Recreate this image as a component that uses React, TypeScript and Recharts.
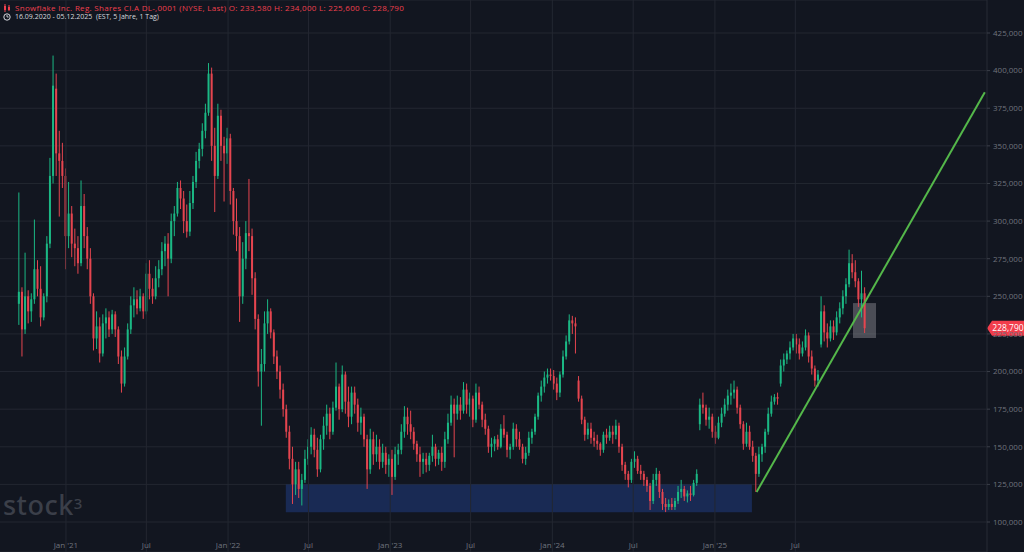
import React from 'react';
import { ComposedChart, Bar, XAxis, YAxis, CartesianGrid, ReferenceLine, ReferenceArea } from 'recharts';

// ---- data (weekly candles; index = weeks since 16.09.2020) ----
const START_DATE = '2020-09-16';
const END_DATE = '05.12.2025';
const TITLE = 'Snowflake Inc. Reg. Shares Cl.A DL-,0001 (NYSE, Last)';
const lastDayOHLC = [233.58, 234.0, 225.6, 228.79];

const weeklyOHLC: number[][] = [
  [245, 319, 231, 253], [253, 256, 210, 228], [228, 279, 225, 250], [250, 254, 232, 240], [240, 252, 233, 248],
  [248, 301, 245, 268], [268, 274, 250, 255], [255, 270, 230, 236], [236, 252, 234, 250], [250, 290, 246, 285],
  [285, 342, 282, 330], [330, 410, 325, 390], [388, 398, 330, 345], [345, 360, 303, 340], [340, 352, 322, 330],
  [330, 335, 268, 290], [290, 326, 282, 305], [305, 310, 276, 285], [285, 295, 270, 282], [282, 290, 265, 272],
  [272, 327, 270, 310], [310, 318, 282, 290], [290, 296, 268, 275], [275, 282, 245, 250], [250, 252, 214, 222],
  [222, 240, 215, 230], [230, 236, 206, 212], [212, 238, 210, 232], [232, 242, 222, 236], [236, 240, 223, 228],
  [228, 241, 225, 238], [238, 240, 223, 228], [228, 230, 205, 210], [210, 214, 186, 192], [192, 216, 190, 210],
  [210, 232, 208, 228], [228, 250, 225, 244], [244, 256, 236, 248], [248, 254, 238, 242], [242, 255, 240, 250],
  [250, 252, 235, 240], [240, 272, 238, 265], [265, 274, 248, 255], [255, 262, 245, 250], [250, 270, 248, 262],
  [262, 274, 256, 268], [268, 286, 264, 280], [280, 290, 270, 285], [285, 292, 250, 275], [275, 305, 272, 300],
  [300, 310, 290, 305], [305, 326, 303, 322], [322, 327, 308, 315], [315, 320, 292, 300], [300, 311, 289, 293],
  [293, 320, 290, 312], [312, 330, 308, 326], [326, 346, 322, 340], [340, 352, 335, 348], [348, 365, 343, 360],
  [360, 378, 355, 372], [372, 405, 370, 398], [398, 402, 340, 350], [350, 362, 306, 330], [330, 378, 328, 370],
  [370, 374, 340, 350], [350, 356, 313, 345], [345, 362, 338, 355], [355, 358, 311, 320], [320, 322, 291, 300],
  [300, 315, 280, 290], [290, 296, 233, 250], [250, 286, 245, 275], [275, 300, 268, 292], [292, 328, 280, 290],
  [290, 295, 251, 262], [262, 266, 228, 235], [235, 238, 190, 200], [200, 215, 164, 205], [205, 240, 200, 232],
  [232, 248, 225, 240], [240, 242, 222, 226], [226, 228, 205, 210], [210, 214, 195, 200], [200, 204, 182, 188],
  [188, 192, 170, 175], [175, 178, 156, 160], [160, 164, 135, 142], [142, 150, 112, 125], [125, 140, 118, 135],
  [135, 140, 116, 122], [122, 132, 111, 128], [128, 148, 126, 142], [142, 155, 138, 150], [150, 163, 145, 158],
  [158, 162, 143, 148], [148, 156, 130, 135], [135, 158, 133, 155], [155, 170, 148, 164], [164, 178, 158, 172],
  [172, 176, 155, 160], [160, 180, 158, 176], [176, 206, 174, 190], [190, 192, 168, 175], [175, 204, 173, 198],
  [198, 200, 172, 180], [180, 190, 163, 170], [170, 190, 165, 186], [186, 190, 172, 178], [178, 182, 160, 166],
  [166, 176, 158, 170], [170, 172, 150, 155], [155, 158, 122, 135], [135, 162, 132, 155], [155, 160, 138, 145],
  [145, 158, 140, 150], [150, 155, 135, 140], [140, 152, 136, 146], [146, 150, 132, 138], [138, 145, 130, 142],
  [142, 148, 118, 130], [130, 150, 128, 145], [145, 152, 138, 148], [148, 165, 145, 160], [160, 177, 156, 170],
  [170, 176, 158, 165], [165, 174, 155, 160], [160, 163, 148, 152], [152, 154, 140, 145], [145, 150, 130, 140],
  [140, 146, 132, 142], [142, 146, 133, 138], [138, 146, 134, 144], [144, 158, 140, 150], [150, 152, 137, 142],
  [142, 148, 138, 146], [146, 150, 134, 140], [140, 160, 136, 155], [155, 172, 152, 166], [166, 184, 164, 178],
  [178, 182, 143, 172], [172, 184, 168, 178], [178, 183, 168, 174], [174, 193, 172, 188], [188, 192, 172, 178],
  [178, 186, 170, 182], [182, 184, 163, 168], [168, 192, 166, 186], [186, 190, 175, 178], [178, 180, 163, 168],
  [168, 172, 158, 162], [162, 164, 146, 150], [150, 156, 143, 152], [152, 157, 147, 155], [155, 158, 148, 150],
  [150, 165, 149, 162], [162, 171, 156, 158], [158, 160, 143, 148], [148, 152, 142, 150], [150, 166, 148, 162],
  [162, 165, 150, 155], [155, 160, 148, 150], [150, 152, 139, 142], [142, 150, 138, 146], [146, 160, 144, 156],
  [156, 162, 152, 160], [160, 172, 158, 170], [170, 186, 168, 184], [184, 194, 180, 190], [190, 200, 186, 196],
  [196, 202, 192, 198], [198, 202, 194, 197], [197, 201, 188, 192], [192, 196, 181, 186], [186, 200, 183, 198],
  [198, 214, 196, 210], [210, 224, 208, 220], [220, 238, 218, 234], [234, 237, 225, 232], [232, 236, 212, 230],
  [194, 197, 180, 182], [182, 184, 165, 168], [168, 170, 154, 158], [158, 166, 155, 162], [162, 166, 152, 156],
  [156, 160, 150, 154], [154, 158, 148, 152], [152, 153, 144, 148], [148, 160, 146, 158], [158, 162, 152, 156],
  [156, 164, 154, 160], [160, 164, 152, 158], [158, 168, 155, 164], [164, 166, 146, 150], [150, 152, 134, 138],
  [138, 140, 128, 132], [132, 134, 123, 128], [128, 142, 126, 140], [140, 147, 136, 142], [142, 144, 132, 134],
  [134, 138, 128, 132], [132, 134, 124, 128], [128, 130, 120, 124], [124, 126, 108, 114], [114, 132, 112, 128],
  [128, 136, 124, 132], [132, 134, 116, 120], [120, 122, 108, 112], [112, 116, 106.6, 110], [110, 115, 108, 112],
  [112, 116, 108, 110], [110, 116, 108, 114], [114, 124, 112, 120], [120, 128, 116, 122], [122, 124, 114, 117],
  [117, 121, 113, 119], [119, 124, 114, 118], [118, 128, 117, 126], [126, 135, 124, 132], [165, 182, 161, 178],
  [178, 186, 172, 176], [176, 178, 164, 168], [168, 176, 162, 170], [170, 172, 156, 160], [160, 164, 152, 156],
  [156, 170, 155, 166], [166, 176, 163, 172], [172, 182, 170, 178], [178, 188, 174, 184], [184, 192, 178, 186],
  [186, 194, 182, 188], [188, 190, 172, 176], [176, 178, 162, 165], [165, 167, 148, 152], [152, 166, 150, 160],
  [160, 164, 148, 150], [150, 154, 140, 144], [144, 146, 120, 132], [132, 150, 130, 145], [145, 152, 140, 150],
  [150, 162, 146, 160], [160, 176, 158, 172], [172, 184, 170, 180], [180, 185, 178, 183], [183, 186, 178, 182],
  [192, 208, 190, 204], [204, 212, 200, 208], [208, 214, 205, 212], [212, 220, 208, 216], [216, 225, 214, 222],
  [222, 225, 212, 218], [218, 222, 208, 212], [212, 220, 210, 216], [216, 228, 214, 224], [224, 226, 206, 210],
  [210, 214, 198, 202], [202, 204, 190, 194], [194, 201, 190, 198], [218, 250, 216, 240], [240, 244, 220, 226],
  [226, 232, 216, 222], [222, 234, 220, 230], [230, 234, 221, 226], [226, 240, 224, 236], [236, 246, 232, 242],
  [242, 254, 238, 250], [250, 262, 245, 258], [258, 281, 256, 272], [272, 278, 262, 266], [266, 274, 256, 260],
  [260, 262, 243, 248], [248, 267, 236, 252], [252, 256, 225.6, 228.79],
];

const monthTickDates = ['2021-01-01', '2021-07-01', '2022-01-01', '2022-07-01', '2023-01-01', '2023-07-01', '2024-01-01', '2024-07-01', '2025-01-01', '2025-07-01'];
const monthTickLabels = ["Jan '21", 'Jul', "Jan '22", 'Jul', "Jan '23", 'Jul', "Jan '24", 'Jul', "Jan '25", 'Jul'];
const priceTicks = [100, 125, 150, 175, 200, 225, 250, 275, 300, 325, 350, 375, 400, 425];

// drawings (in week index / price units)
const supportZone = [86.0, 235.9, 106.5, 125.0];
const trendLine = [237.4, 120, 310.8, 385.7];
const highlightBox = [268.4, 275.8, 222.3, 245.5];
const xDomain = [-5.92, 311.5];
const yDomain = [80.07, 446.93];

// ---- styling ----
const BG = '#121620';
const UP = '#1bb884';
const DOWN = '#e5454f';
const GRID = '#232731';
const AXIS_TEXT = '#6f737d';
const FONT = '"Open Sans", "Noto Sans", sans-serif';

const weekOf = (d: string) => (Date.parse(d) - Date.parse(START_DATE)) / (7 * 86400000);
const fmt = (v: number) => v.toFixed(3).replace('.', ',');

const data = weeklyOHLC.map((c, i) => ({ w: i, o: c[0], h: c[1], l: c[2], c: c[3], range: [c[2], c[1]] }));

const Candle = (props: any) => {
  const { x, y, width, height, payload } = props;
  if (!payload || x == null) return null;
  const top = Math.min(y, y + height);
  const hh = Math.abs(height);
  const { o, h, l, c } = payload;
  const span = h - l || 1;
  const py = (v: number) => top + ((h - v) / span) * hh;
  const up = c >= o;
  const color = up ? UP : DOWN;
  const cx = x + width / 2;
  const bt = py(Math.max(o, c));
  const bb = py(Math.min(o, c));
  return (
    <g>
      <line x1={cx} x2={cx} y1={top} y2={top + hh} stroke={color} strokeWidth={1} />
      <rect x={cx - 1} y={bt} width={2} height={Math.max(1, bb - bt)} fill={color} />
    </g>
  );
};

const PriceTag = (props: any) => {
  const vb = props.viewBox || {};
  const x = vb.x + vb.width;
  const y = vb.y;
  return (
    <g>
      <path d={`M${x} ${y} L${x + 5} ${y - 7.5} H${x + 37} V${y + 7.5} H${x + 5} Z`} fill="#f23d4c" />
      <text x={x + 21} y={y + 3} textAnchor="middle" fontSize={8.5} fontFamily={FONT} fill="#ffffff">
        {fmt(weeklyOHLC[weeklyOHLC.length - 1][3])}
      </text>
    </g>
  );
};

export default function App() {
  const [o, h, l, c] = lastDayOHLC;
  return (
    <div style={{ position: 'fixed', left: 0, top: 0, width: 1024, height: 552, background: BG, overflow: 'hidden' }}>
      <ComposedChart width={1024} height={552} data={data} margin={{ top: 0, right: 0, bottom: 0, left: 0 }}>
        <CartesianGrid vertical={false} stroke={GRID} />
        <XAxis type="number" dataKey="w" domain={xDomain} allowDataOverflow hide />
        <YAxis
          orientation="right"
          type="number"
          domain={yDomain}
          allowDataOverflow
          ticks={priceTicks}
          width={37}
          tickFormatter={fmt}
          tick={{ fill: AXIS_TEXT, fontSize: 8, fontFamily: FONT }}
          tickLine={{ stroke: '#3a3e48' }}
          tickSize={3}
          tickMargin={3}
          axisLine={{ stroke: '#262a34' }}
        />
        {monthTickDates.map((d, i) => (
          <ReferenceLine
            key={d}
            x={weekOf(d)}
            stroke={GRID}
            label={{ value: monthTickLabels[i], position: 'insideBottom', fill: AXIS_TEXT, fontSize: 8, fontFamily: FONT, offset: 4 }}
          />
        ))}
        <Bar dataKey="range" shape={<Candle />} barSize={2} isAnimationActive={false} />
        <ReferenceArea x1={supportZone[0]} x2={supportZone[1]} y1={supportZone[2]} y2={supportZone[3]} fill="#1f3d80" fillOpacity={0.55} stroke="none" />
        <ReferenceArea x1={highlightBox[0]} x2={highlightBox[1]} y1={highlightBox[2]} y2={highlightBox[3]} fill="#9a9ca2" fillOpacity={0.42} stroke="none" />
        <ReferenceLine
          segment={[{ x: trendLine[0], y: trendLine[1] }, { x: trendLine[2], y: trendLine[3] }]}
          stroke="#54b84a"
          strokeWidth={2}
          ifOverflow="visible"
        />
        <ReferenceLine y={c} stroke="none" label={<PriceTag />} />
      </ComposedChart>

      <div style={{ position: 'absolute', left: 3, top: 3, fontFamily: FONT, lineHeight: '9px', whiteSpace: 'pre' }}>
        <div style={{ color: '#f0404e', display: 'flex', alignItems: 'center', fontSize: 8, letterSpacing: 0.3 }}>
          <svg width={9} height={8} style={{ marginRight: 3 }}>
            <line x1={2} x2={2} y1={0} y2={8} stroke="#f0404e" strokeWidth={1} />
            <rect x={1} y={2} width={2} height={4} fill="#f0404e" />
            <line x1={6} x2={6} y1={1} y2={7} stroke="#f0404e" strokeWidth={1} />
            <rect x={5} y={3} width={2} height={3} fill="#f0404e" />
          </svg>
          {`${TITLE} O: ${fmt(o)} H: ${fmt(h)} L: ${fmt(l)} C: ${fmt(c)}`}
        </div>
        <div style={{ color: '#d6d8de', display: 'flex', alignItems: 'center', fontSize: 7 }}>
          <svg width={9} height={8} style={{ marginRight: 3 }}>
            <circle cx={4} cy={4} r={3.2} stroke="#d6d8de" strokeWidth={1} fill="none" />
            <path d="M4 2 V4 H5.6" stroke="#d6d8de" strokeWidth={0.9} fill="none" />
          </svg>
          {`16.09.2020 - ${END_DATE}  (EST, 5 Jahre, 1 Tag)`}
        </div>
      </div>

      <div style={{ position: 'absolute', left: 3, top: 490, fontFamily: '"Noto Sans", "Open Sans", sans-serif', fontSize: 27, fontWeight: 500, color: '#3b3f49', letterSpacing: 0.5, lineHeight: '30px' }}>
        stock<span style={{ fontSize: 15, verticalAlign: 'top', position: 'relative', top: -2 }}>3</span>
      </div>
    </div>
  );
}
